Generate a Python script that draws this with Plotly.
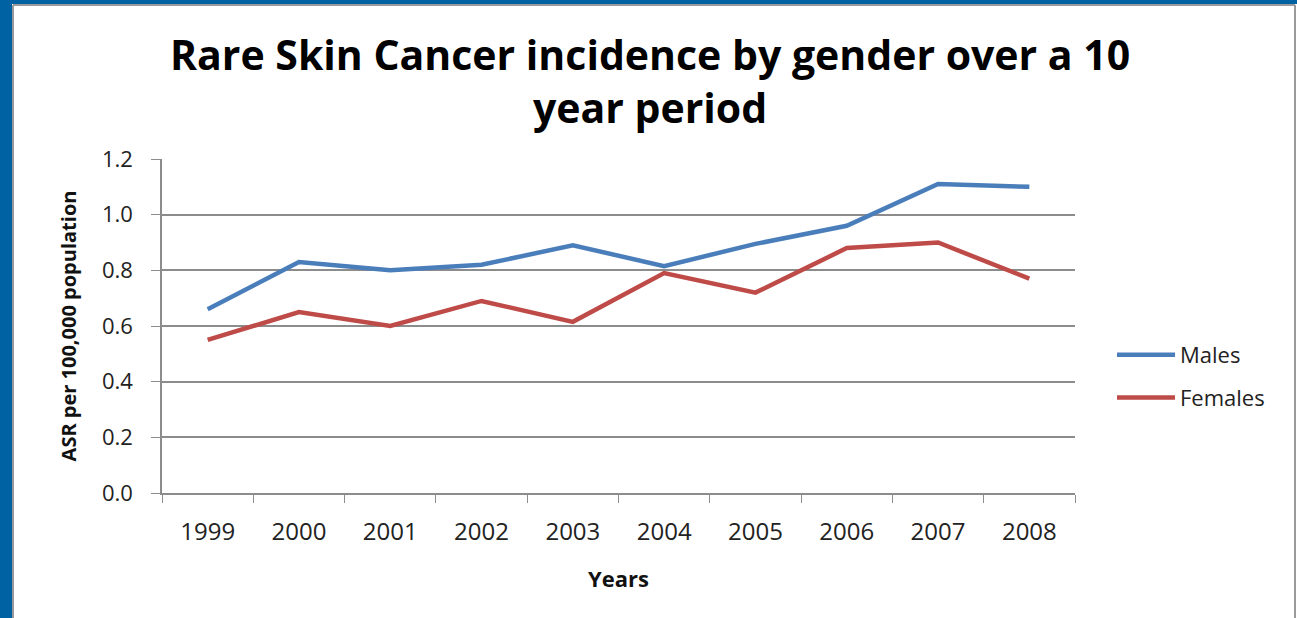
import plotly.graph_objects as go

# Incidence data (ASR per 100,000 population)
years = ["1999", "2000", "2001", "2002", "2003", "2004", "2005", "2006", "2007", "2008"]
males = [0.66, 0.83, 0.80, 0.82, 0.89, 0.815, 0.895, 0.96, 1.11, 1.10]
females = [0.55, 0.65, 0.60, 0.69, 0.615, 0.79, 0.72, 0.88, 0.90, 0.77]

W, H = 1297, 618
L, R, T, B = 162, 222, 159, 125
PW = W - L - R
PH = H - T - B


def px_x(p):
    return (p - L) / PW


def px_y(p):
    return (H - B - p) / PH


fig = go.Figure()
fig.add_trace(go.Scatter(x=years, y=males, name="Males", mode="lines",
                         line=dict(color="#4A7EBB", width=4.5), legendgroup="m"))
fig.add_trace(go.Scatter(x=years, y=females, name="Females", mode="lines",
                         line=dict(color="#BE4B48", width=4.5), legendgroup="f"))

# slide frame: blue band on left/top, thin grey rule inside
shapes = [
    dict(type="rect", xref="paper", yref="paper", x0=px_x(0), x1=px_x(12),
         y0=px_y(H), y1=px_y(0), fillcolor="#0062A3", line=dict(width=0), layer="below"),
    dict(type="rect", xref="paper", yref="paper", x0=px_x(0), x1=px_x(W),
         y0=px_y(4), y1=px_y(0), fillcolor="#0062A3", line=dict(width=0), layer="below"),
    dict(type="line", xref="paper", yref="paper", x0=px_x(13), x1=px_x(13),
         y0=px_y(H), y1=px_y(5), line=dict(color="#9A9A9A", width=2)),
    dict(type="line", xref="paper", yref="paper", x0=px_x(13), x1=px_x(1295),
         y0=px_y(5), y1=px_y(5), line=dict(color="#9A9A9A", width=2)),
    dict(type="line", xref="paper", yref="paper", x0=px_x(1295), x1=px_x(1295),
         y0=px_y(H), y1=px_y(5), line=dict(color="#9A9A9A", width=2)),
]

title_lines = ["Rare Skin Cancer incidence by gender over a 10", "year period"]
annotations = [
    dict(text="<br>".join(title_lines), xref="paper", yref="paper",
         x=px_x(650), y=px_y(24), xanchor="center", yanchor="top", showarrow=False,
         font=dict(family="Open Sans", size=41, color="black", weight="bold")),
]

fig.update_layout(
    width=W, height=H,
    margin=dict(l=L, r=R, t=T, b=B),
    paper_bgcolor="white", plot_bgcolor="white",
    shapes=shapes,
    annotations=annotations,
    font=dict(family="Open Sans", color="#222"),
    showlegend=True,
    legend=dict(x=px_x(1112), y=px_y(334), xanchor="left", yanchor="top",
                font=dict(size=22, color="#222"), tracegroupgap=11,
                itemwidth=58, bgcolor="rgba(0,0,0,0)"),
    xaxis=dict(
        type="category", range=[-0.5, 9.5],
        showgrid=False, showline=True, linecolor="#8C8C8C", linewidth=1.5,
        ticks="outside", tickson="boundaries", ticklen=8, tickcolor="#8C8C8C",
        tickfont=dict(size=24, color="#222"), ticklabelstandoff=16,
        title=dict(text="<b>Years</b>", font=dict(size=22, color="#111"), standoff=26),
    ),
    yaxis=dict(
        range=[0, 1.2], dtick=0.2, tickformat=".1f",
        showgrid=True, gridcolor="#8C8C8C", gridwidth=1.5,
        showline=True, linecolor="#8C8C8C", linewidth=1.5,
        ticks="outside", ticklen=9, tickcolor="#8C8C8C",
        tickfont=dict(size=22, color="#222"), ticklabelstandoff=14,
        zeroline=False,
        title=dict(text="<b>ASR per 100,000 population</b>",
                   font=dict(size=20, color="#111"), standoff=20),
    ),
)

fig.write_html("out.html")
